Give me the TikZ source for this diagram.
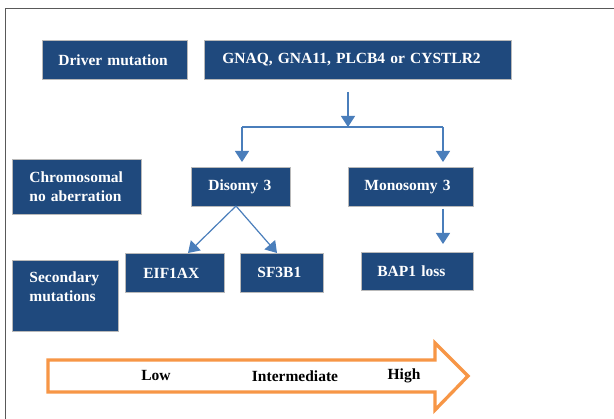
\documentclass[tikz,border=0pt]{standalone}
\usepackage{fontspec}
\setmainfont{Liberation Serif}
\usetikzlibrary{arrows.meta}
\definecolor{boxblue}{RGB}{31,73,125}
\definecolor{conblue}{RGB}{74,126,187}
\definecolor{arrorange}{RGB}{247,150,70}
\begin{document}
\begin{tikzpicture}[x=1pt,y=-1pt,
  blk/.style={fill=boxblue, draw=gray!55, line width=0.8pt, text=white,
    font=\fontsize{15.5}{19}\selectfont\bfseries, align=left, anchor=north west,
    inner ysep=0pt},
  conn/.style={draw=conblue, line width=1.2pt},
  arr/.style={conn, -{Triangle[width=14pt,length=11pt]}},
  lvl/.style={font=\fontsize{15.5}{19}\selectfont\bfseries, text=black, inner sep=0pt}]
\useasboundingbox (0,0) rectangle (614,419);
\fill[white] (0,0) rectangle (614,419);
\draw[gray!70!black, line width=1pt] (5,419) -- (5,9) -- (614,9);

% boxes: inner xsep = left text margin, text width = w - 2*xsep
\node[blk, inner xsep=16pt, text width=113pt, minimum height=39pt] (driver) at (42,40) {\mbox{Driver mutation}};
\node[blk, inner xsep=18pt, text width=271pt, minimum height=39pt] (gnaq) at (204,40) {\mbox{GNAQ, GNA11, PLCB4 or CYSTLR2}};
\node[blk, inner xsep=17pt, text width=95pt, minimum height=55pt] (chrom) at (12,159) {\mbox{Chromosomal}\\\mbox{no aberration}};
\node[blk, inner xsep=17pt, text width=65pt, minimum height=39pt] (disomy) at (191,167) {\mbox{Disomy 3}};
\node[blk, inner xsep=16pt, text width=93pt, minimum height=39pt] (mono) at (348,167) {\mbox{Monosomy 3}};
\node[blk, inner xsep=18pt, text width=63pt, minimum height=39pt] (eif) at (125,253) {\mbox{EIF1AX}};
\node[blk, inner xsep=17pt, text width=49pt, minimum height=39pt] (sf3) at (240,253) {\mbox{SF3B1}};
\node[blk, inner xsep=16pt, text width=80pt, minimum height=38pt] (bap) at (361,252) {\mbox{BAP1 loss}};
\node[blk, inner xsep=17pt, text width=72pt, minimum height=71pt] (second) at (12,260) {\mbox{Secondary}\\\mbox{mutations}\\\mbox{}};

% connectors
\coordinate (src) at (348,92);
\coordinate (split) at (348,127);
\coordinate (lj) at (242,127);
\coordinate (rj) at (443,127);
\coordinate (monob) at (443,209);
\coordinate (dsrc) at (236,206);
\draw[arr] (src) -- (split);
\draw[conn] (lj) -- (rj);
\draw[arr] (lj) -- ([yshift=5pt]lj |- disomy.north);
\draw[arr] (rj) -- ([yshift=5pt]rj |- mono.north);
\draw[arr] (monob) -- ([yshift=8pt]monob |- bap.north);
\draw[arr] (dsrc) -- (188,253);
\draw[arr] (dsrc) -- (277,253);

% orange arrow
\draw[arrorange, line width=3.3pt, fill=white, line join=miter]
  (48,360) -- (435,360) -- (435,343) -- (468,376) -- (435,410) -- (435,392) -- (48,392) -- cycle;
\node[lvl] (low) at (156,376) {Low};
\node[lvl] (mid) at (295,376) {Intermediate};
\node[lvl] (high) at (404,376) {High};
\end{tikzpicture}
\end{document}
